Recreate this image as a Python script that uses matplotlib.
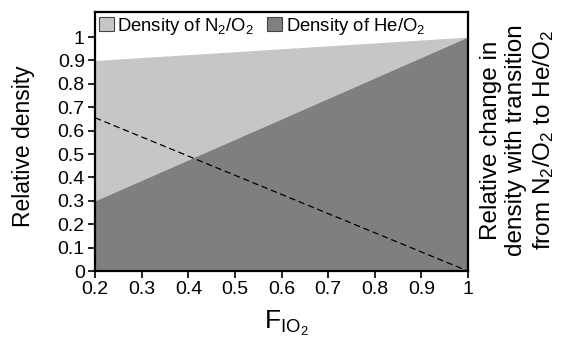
import numpy as np
import matplotlib
matplotlib.use('Agg')
from matplotlib import pyplot as plt
from matplotlib.patches import Patch

plt.rcParams['font.family'] = ['Liberation Sans', 'DejaVu Sans']
plt.rcParams['mathtext.fontset'] = 'custom'
plt.rcParams['mathtext.rm'] = 'Liberation Sans'
plt.rcParams['mathtext.it'] = 'Liberation Sans'

# data
fio2 = [0.2, 1.0]
dens_n2o2 = [0.9, 1.0]
dens_heo2 = [0.3, 1.0]
rel_change = [0.655, 0.0]
xticks = [0.2, 0.3, 0.4, 0.5, 0.6, 0.7, 0.8, 0.9, 1]
yticks = [0, 0.1, 0.2, 0.3, 0.4, 0.5, 0.6, 0.7, 0.8, 0.9, 1]

light = '#c6c6c6'
dark = '#7f7f7f'

fig = plt.figure(figsize=(5.7, 3.44), dpi=100)
ax = fig.add_axes([0.167, 0.212, 0.654, 0.753])

ax.fill_between(fio2, 0, dens_n2o2, color=light, lw=0)
ax.fill_between(fio2, 0, dens_heo2, color=dark, lw=0)
ax.plot(fio2, rel_change, color='black', ls=(0, (5, 3)), lw=0.9)

ax.set_xlim(0.2, 1)
ax.set_ylim(0, 1.107)
ax.set_xticks(xticks)
ax.set_xticklabels([f'{t:g}' for t in xticks])
ax.set_yticks(yticks)
ax.set_yticklabels([f'{t:g}' for t in yticks])
ax.tick_params(labelsize=14, direction='out', length=5, width=1.2, pad=2.5)
for s in ax.spines.values():
    s.set_linewidth(1.6)

ax.set_ylabel('Relative density', fontsize=16.5)
ax.yaxis.set_label_coords(-0.162, 0.483)
ax.set_xlabel(r'F$_{\mathrm{IO_2}}$', fontsize=19)
ax.xaxis.set_label_coords(0.512, -0.145)

# right side label
fig.text(0.909, 0.593, 'Relative change in\ndensity with transition\nfrom N$_2$/O$_2$ to He/O$_2$',
         rotation=90, fontsize=17.5, ha='center', va='center', multialignment='center',
         linespacing=1.2)

handles = [Patch(facecolor=light, edgecolor='#444444', lw=0.8, label='Density of N$_2$/O$_2$'),
           Patch(facecolor=dark, edgecolor='#444444', lw=0.8, label='Density of He/O$_2$')]
ax.legend(handles=handles, loc='upper left', ncol=2, frameon=False, fontsize=13.3,
          handlelength=0.8, handleheight=0.8, handletextpad=0.2, columnspacing=0.7,
          borderaxespad=0.1, borderpad=0.1)

fig.savefig('out.png', dpi=100)
